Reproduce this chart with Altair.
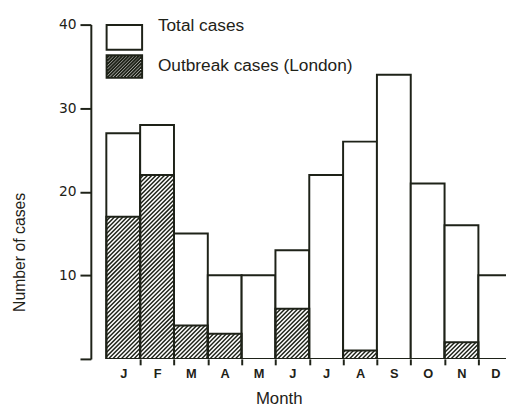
import altair as alt
import pandas as pd

# ---- data ----
MONTHS = ["J", "F", "M", "A", "M", "J", "J", "A", "S", "O", "N", "D"]
TOTAL = [27, 28, 15, 10, 10, 13, 22, 26, 34, 21, 16, 10]
OUTBREAK = [17, 22, 4, 3, 0, 6, 0, 1, 0, 0, 2, 0]
LEGEND = ["Total cases", "Outbreak cases (London)"]
Y_TICKS = [0, 10, 20, 30, 40]

INK = "#1e2218"
FONT = "Liberation Sans"

# ---- layout ----
W, H = 421, 339
XMIN = -0.458
PXX = 34.3                      # pixels per month
XMAX = XMIN + W / PXX
YMAX = 40
PXY = H / YMAX                  # pixels per case
SP = 4.3                        # hatch spacing (px, horizontal)

df = pd.DataFrame({
    "idx": list(range(len(MONTHS))),
    "month": MONTHS,
    "total": TOTAL,
    "outbreak": OUTBREAK,
})

xscale = alt.Scale(domain=[XMIN, XMAX], nice=False, zero=False)
yscale = alt.Scale(domain=[0, YMAX], nice=False, zero=True)

month_arr = "[" + ",".join("'%s'" % m for m in MONTHS) + "]"
x_values = sorted([i + 0.5 for i in range(len(MONTHS))] + list(range(1, len(MONTHS))))

x_axis = alt.Axis(
    values=x_values,
    labelExpr=f"datum.value % 1 ? {month_arr}[floor(datum.value)] : ''",
    tickOpacity={"condition": {"test": "datum.value % 1 !== 0", "value": 0}, "value": 1},
    tickSize=6, tickWidth=2, tickColor=INK,
    domain=False, grid=False,
    labelFont=FONT, labelFontSize=13, labelFontWeight="bold", labelColor=INK,
    labelPadding=3, labelOverlap=False, labelFlush=False, labelBound=False,
    title="Month", titleFont=FONT, titleFontSize=17, titleFontWeight="normal",
    titleColor=INK, titleX=190.5, titleY=32, titleAlign="center", titleBaseline="top",
)

y_axis = alt.Axis(
    values=Y_TICKS,
    labelExpr="datum.value == 0 ? '' : datum.label",
    tickSize=11, tickWidth=2, tickColor=INK,
    domain=True, domainColor=INK, domainWidth=2, grid=False,
    labelFont="DejaVu Sans", labelFontSize=14, labelColor=INK, labelPadding=4,
    title="Number of cases", titleFont=FONT, titleFontSize=16, titleFontWeight="normal",
    titleColor=INK, titleAngle=270, titleX=-72, titleY=230.5,
    titleAlign="center", titleBaseline="middle",
)

base = alt.Chart(df).transform_calculate(idx_end="datum.idx + 1", zero="0")

totals = base.mark_rect(fill="white", stroke=INK, strokeWidth=2, clip=True).encode(
    x=alt.X("idx:Q", scale=xscale, axis=x_axis),
    x2="idx_end:Q",
    y=alt.Y("total:Q", scale=yscale, axis=y_axis),
    y2="zero:Q",
)

hatch = (
    alt.Chart(df)
    .transform_filter("datum.outbreak > 0")
    .transform_calculate(k="sequence(0, 80)")
    .transform_flatten(["k"])
    .transform_calculate(
        h=f"datum.outbreak * {PXY}",
        c=f"-{PXX} + (datum.k + 0.5) * {SP}",
    )
    .transform_calculate(
        us="max(0, -datum.c)",
        ue=f"min({PXX}, datum.h - datum.c)",
    )
    .transform_filter("datum.ue > datum.us")
    .transform_calculate(
        hx1="datum.idx + datum.us / %s" % PXX,
        hx2="datum.idx + datum.ue / %s" % PXX,
        hy1="(datum.us + datum.c) / %s" % PXY,
        hy2="(datum.ue + datum.c) / %s" % PXY,
    )
    .transform_calculate(
        idx="datum.hx1", idx_end="datum.hx2", total="datum.hy1", zero="datum.hy2",
    )
    .mark_rule(stroke=INK, strokeWidth=1.5, clip=True)
    .encode(
        x=alt.X("idx:Q", scale=xscale, axis=x_axis),
        x2="idx_end:Q",
        y=alt.Y("total:Q", scale=yscale, axis=y_axis),
        y2="zero:Q",
    )
)

outbreak = (
    base.transform_filter("datum.outbreak > 0")
    .transform_calculate(total="datum.outbreak")
    .mark_rect(fill="transparent", stroke=INK, strokeWidth=2, clip=True)
    .encode(
        x=alt.X("idx:Q", scale=xscale, axis=x_axis),
        x2="idx_end:Q",
        y=alt.Y("total:Q", scale=yscale, axis=y_axis),
        y2="zero:Q",
    )
)

# ---- legend symbols (custom paths, unit = S/2 px) ----
S = 24.0
U = S / 2


def rect_path(x0, y0, x1, y1):
    return (f"M{x0:.4f},{y0:.4f}L{x1:.4f},{y0:.4f}L{x1:.4f},{y1:.4f}"
            f"L{x0:.4f},{y1:.4f}Z")


box1 = rect_path(-18 / U, (12 - 12.5) / U, 18 / U, (12 + 12.5) / U)
bw, bh, lsp = 36.0, 23.0, 3.4
segs = []
c = -bw + lsp / 2
while c < bh:
    us = max(0.0, -c)
    ue = min(bw, bh - c)
    if ue > us:
        xs, ys = -18 + us, 11.5 - (us + c)
        xe, ye = -18 + ue, 11.5 - (ue + c)
        segs.append(f"M{xs / U:.4f},{ys / U:.4f}L{xe / U:.4f},{ye / U:.4f}")
    c += lsp
box2 = rect_path(-18 / U, -11.5 / U, 18 / U, 11.5 / U) + "".join(segs)

leg_common = dict(
    title=None, orient="none", legendX=21,
    padding=0, offset=0,
    labelFont=FONT, labelFontSize=17.5, labelColor=INK,
    labelOffset=21, labelLimit=400,
    symbolSize=S * S, symbolStrokeWidth=2, symbolStrokeColor=INK,
    symbolFillColor="white", symbolOpacity=1,
)

leg_df = pd.DataFrame({"series": LEGEND})

legend_total = (
    alt.Chart(leg_df)
    .transform_filter("false")
    .mark_point(filled=False, color=INK, strokeWidth=2, opacity=1, size=S * S)
    .encode(
        shape=alt.Shape(
            "series:N",
            scale=alt.Scale(domain=[LEGEND[0]], range=[box1]),
            legend=alt.Legend(legendY=-12, **leg_common),
        )
    )
)

legend_outbreak = (
    alt.Chart(leg_df)
    .transform_filter("false")
    .mark_point(filled=False, shape=box2, strokeWidth=2, opacity=1, size=S * S)
    .encode(
        color=alt.Color(
            "series:N",
            scale=alt.Scale(domain=[LEGEND[1]], range=[INK]),
            legend=alt.Legend(legendY=29.5, **leg_common),
        )
    )
)

chart = (
    alt.layer(totals, hatch, outbreak, legend_total, legend_outbreak)
    .properties(
        width=W, height=H,
        autosize=alt.AutoSizeParams(type="none"),
        padding={"left": 84, "top": 14, "right": 0, "bottom": 52},
        background="white",
    )
    .configure_view(stroke=None)
)

chart.save("out.html", embed_options={"renderer": "svg", "actions": False})
